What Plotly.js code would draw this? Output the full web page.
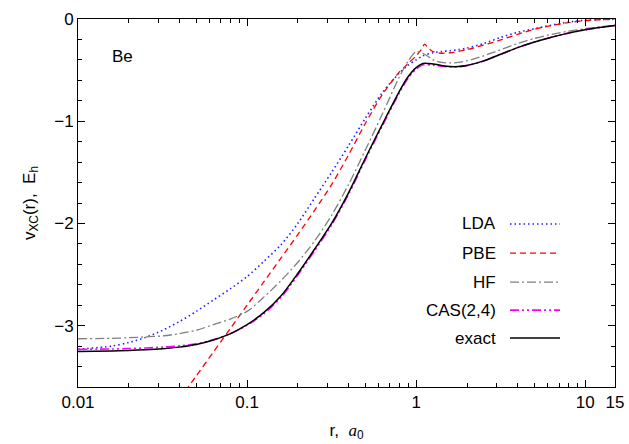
<!DOCTYPE html>
<html>
<head>
<meta charset="utf-8">
<script src="https://cdn.plot.ly/plotly-3.0.1.min.js"></script>
<style>html,body{margin:0;padding:0;background:#fff;}#chart{width:629px;height:444px;}</style>
</head>
<body>
<div id="chart"></div>
<script>
// ---- data ----
const seriesNames = ["LDA", "PBE", "HF", "CAS(2,4)", "exact"];

// radial grid, a0
const rGrid = [0.01, 0.01585, 0.01995, 0.02512, 0.03162, 0.03981, 0.05012, 0.0631, 0.07943, 0.1, 0.1259, 0.1585, 0.1995, 0.2512, 0.3162, 0.3981, 0.5012, 0.631, 0.7943, 0.8913, 1.0, 1.096, 1.259, 1.413, 1.585, 1.778, 1.995, 2.512, 3.162, 3.981, 5.012, 6.31, 7.943, 10, 12.59, 15];

const vLDA = [-3.23, -3.20, -3.165, -3.115, -3.045, -2.96, -2.86, -2.75, -2.64, -2.52, -2.37, -2.21, -2.00, -1.75, -1.50, -1.24, -0.97, -0.72, -0.53, -0.455, -0.40, -0.36, -0.33, -0.318, -0.31, -0.30, -0.285, -0.24, -0.18, -0.13, -0.095, -0.06, -0.03, -0.012, -0.005, -0.003];

const rPBE = [0.03981, 0.05012, 0.0631, 0.07943, 0.1, 0.1259, 0.1585, 0.1995, 0.2512, 0.3162, 0.3981, 0.5012, 0.631, 0.7943, 0.8913, 1.0, 1.072, 1.122, 1.175, 1.259, 1.413, 1.585, 1.995, 2.512, 3.162, 3.981, 5.012, 6.31, 7.943, 10, 12.59, 15];
const vPBE = [-3.72, -3.49, -3.26, -3.03, -2.80, -2.57, -2.34, -2.11, -1.87, -1.62, -1.33, -1.02, -0.74, -0.52, -0.44, -0.36, -0.30, -0.245, -0.28, -0.32, -0.335, -0.33, -0.30, -0.255, -0.205, -0.15, -0.10, -0.065, -0.035, -0.016, -0.006, -0.002];

const vHF = [-3.128, -3.124, -3.118, -3.11, -3.10, -3.078, -3.045, -2.99, -2.935, -2.86, -2.72, -2.56, -2.38, -2.17, -1.92, -1.62, -1.28, -0.93, -0.57, -0.42, -0.32, -0.335, -0.40, -0.425, -0.43, -0.425, -0.41, -0.36, -0.30, -0.24, -0.19, -0.15, -0.12, -0.095, -0.075, -0.062];

const vCAS = [-3.232, -3.228, -3.224, -3.218, -3.21, -3.198, -3.178, -3.138, -3.08, -2.995, -2.882, -2.725, -2.505, -2.265, -2.015, -1.715, -1.375, -1.045, -0.725, -0.585, -0.49, -0.448, -0.452, -0.462, -0.468, -0.467, -0.456, -0.41, -0.345, -0.28, -0.225, -0.178, -0.138, -0.105, -0.08, -0.063];

const vExact = [-3.252, -3.247, -3.242, -3.235, -3.225, -3.21, -3.185, -3.14, -3.08, -2.99, -2.87, -2.71, -2.49, -2.25, -2.00, -1.70, -1.36, -1.03, -0.71, -0.57, -0.475, -0.435, -0.44, -0.455, -0.465, -0.465, -0.455, -0.41, -0.345, -0.28, -0.225, -0.178, -0.138, -0.105, -0.08, -0.063];

const xTickVals = [0.01, 0.1, 1, 10, 15];
const xTickText = ["0.01", "0.1", "1", "10", "15"];
const yTickVals = [0, -1, -2, -3];

// ---- styles ----
const styles = [
  {color: "#1f1fff", dash: "1.5px,3px", width: 1.6},
  {color: "#ff0000", dash: "6px,4px", width: 1.3},
  {color: "#808080", dash: "9px,3px,2px,3px", width: 1.3},
  {color: "#ff00ff", dash: "9px,3px,2px,3px,2px,3px", width: 1.6},
  {color: "#000000", dash: "solid", width: 1.5}
];
const xs = [rGrid, rPBE, rGrid, rGrid, rGrid];
const ys = [vLDA, vPBE, vHF, vCAS, vExact];

const traces = seriesNames.map((n, i) => ({
  x: xs[i], y: ys[i], name: n, type: "scatter", mode: "lines",
  line: {color: styles[i].color, dash: styles[i].dash, width: styles[i].width, shape: "spline", smoothing: 0.8},
  showlegend: false, hoverinfo: "skip"
}));

const minorX = [];
[0.01, 0.1, 1, 10].forEach(d => { for (let k = 2; k <= 9; k++) { const v = d * k; if (v <= 15) minorX.push(v); } });
const minorY = [];
for (let k = -18; k <= 0; k++) { if (k % 5 !== 0) minorY.push(k / 5); }

const FONT = "Liberation Sans, Arial, sans-serif";

// legend (gnuplot style: text right-aligned, sample line to its right)
const legTextX = 0.782, legX0 = 0.8045, legX1 = 0.8976;
const legY = [0.443, 0.364, 0.285, 0.209, 0.133];
const annotations = [
  {xref: "paper", yref: "paper", x: 0.082, y: 0.899, text: "Be", showarrow: false, xanchor: "center", yanchor: "middle", font: {family: FONT, size: 17, color: "#000"}}
];
const shapes = [];
seriesNames.forEach((n, i) => {
  annotations.push({xref: "paper", yref: "paper", x: legTextX, y: legY[i], text: n, showarrow: false, xanchor: "right", yanchor: "middle", font: {family: FONT, size: 17, color: "#000"}});
  shapes.push({type: "line", xref: "paper", yref: "paper", x0: legX0, x1: legX1, y0: legY[i], y1: legY[i], line: {color: styles[i].color, dash: styles[i].dash, width: styles[i].width}});
});

const layout = {
  width: 629, height: 444,
  margin: {l: 78, r: 14, t: 19, b: 57},
  paper_bgcolor: "#fff", plot_bgcolor: "#fff",
  font: {family: FONT, size: 17, color: "#000"},
  showlegend: false,
  xaxis: {
    type: "log", range: [-2, Math.log10(15)],
    tickmode: "array", tickvals: xTickVals, ticktext: xTickText,
    ticks: "inside", ticklen: 7, tickwidth: 1, tickcolor: "#000",
    minor: {tickmode: "array", tickvals: minorX, ticks: "inside", ticklen: 4, tickwidth: 1, tickcolor: "#000", showgrid: false},
    showline: true, linecolor: "#000", linewidth: 1, mirror: "allticks",
    showgrid: false, zeroline: false,
    tickfont: {family: FONT, size: 17},
    title: {text: "r,  <i><span style=\"font-family:'Liberation Serif',serif\">a</span></i><sub>0</sub>", font: {family: FONT, size: 17}, standoff: 12}
  },
  yaxis: {
    range: [-3.6, 0],
    tickmode: "array", tickvals: yTickVals,
    ticks: "inside", ticklen: 7, tickwidth: 1, tickcolor: "#000",
    minor: {tickmode: "array", tickvals: minorY, ticks: "inside", ticklen: 4, tickwidth: 1, tickcolor: "#000", showgrid: false},
    showline: true, linecolor: "#000", linewidth: 1, mirror: "allticks",
    showgrid: false, zeroline: false,
    tickfont: {family: FONT, size: 17},
    title: {text: "v<sub>XC</sub>(r),  E<sub>h</sub>", font: {family: FONT, size: 17}, standoff: 14}
  },
  annotations: annotations,
  shapes: shapes
};

Plotly.newPlot("chart", traces, layout, {displayModeBar: false, staticPlot: true});
</script>
</body>
</html>
